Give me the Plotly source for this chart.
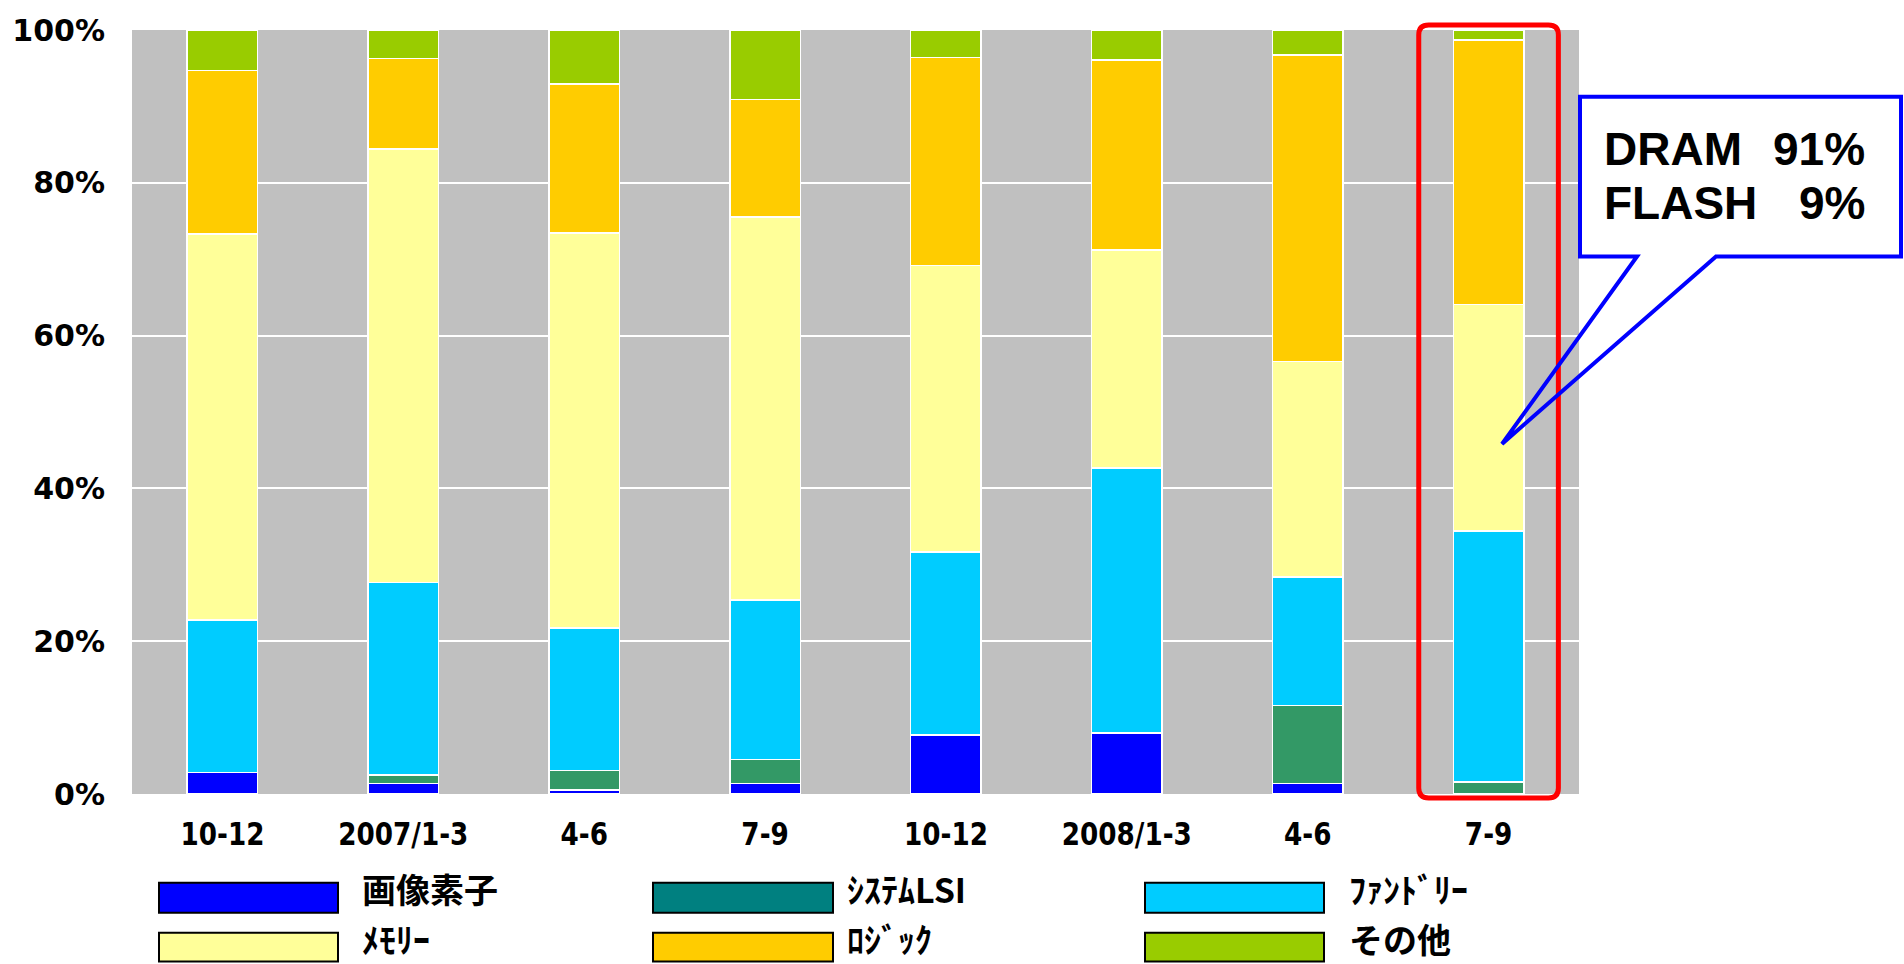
import plotly.graph_objects as go

# Quarterly share of semiconductor production by product type (%)
categories = ["10-12", "2007/1-3", "4-6", "7-9", "10-12", "2008/1-3", "4-6", "7-9"]
series_names = ["画像素子", "ｼｽﾃﾑLSI", "ﾌｧﾝﾄﾞﾘｰ", "ﾒﾓﾘｰ", "ﾛｼﾞｯｸ", "その他"]

image_sensor = [2.8, 1.4, 0.5, 1.4, 7.7, 8.0, 1.4, 0.0]
system_lsi = [0.0, 1.1, 2.6, 3.1, 0.0, 0.0, 10.2, 1.6]
foundry = [20.0, 25.2, 18.6, 20.9, 24.0, 34.7, 16.8, 32.8]
memory = [50.5, 56.7, 51.7, 50.1, 37.5, 28.5, 28.2, 29.7]
logic = [21.4, 11.9, 19.5, 15.4, 27.2, 24.9, 40.1, 34.6]
other = [5.3, 3.7, 7.1, 9.1, 3.6, 3.9, 3.3, 1.3]

y_ticks = [0, 20, 40, 60, 80, 100]
y_tick_labels = ["0%", "20%", "40%", "60%", "80%", "100%"]

memory_breakdown = [("DRAM", "91%"), ("FLASH", "9%")]

bar_colors = ["#0000FF", "#339966", "#00CCFF", "#FFFF99", "#FFCC00", "#99CC00"]
legend_colors = ["#0000FF", "#008080", "#00CCFF", "#FFFF99", "#FFCC00", "#99CC00"]
series_values = [image_sensor, system_lsi, foundry, memory, logic, other]

W, H = 1904, 964
L, R, T, B = 132, 325, 28, 170
PW, PH = W - L - R, H - T - B


def px(x):
    return (x - L) / PW


def py(y):
    return (H - B - y) / PH


xs = list(range(len(categories)))
fig = go.Figure()
for name, vals, col in zip(series_names, series_values, bar_colors):
    fig.add_trace(go.Bar(
        x=xs, y=vals, name=name, width=0.39,
        marker=dict(color=col, line=dict(color="white", width=1.5)),
        showlegend=False,
    ))

shapes = []
annotations = []

# legend: three columns, two rows, large swatches
col_x = [(159, 338), (653, 833), (1145, 1324)]
text_x = [361, 846, 1348]
row_y = [(883, 913), (933, 962)]
row_text_y = [889, 939]
for i, (name, col) in enumerate(zip(series_names, legend_colors)):
    r, c = divmod(i, 3)
    x0, x1 = col_x[c]
    y0, y1 = row_y[r]
    shapes.append(dict(type="rect", xref="paper", yref="paper",
                       x0=px(x0), x1=px(x1), y0=py(y1), y1=py(y0),
                       fillcolor=col, line=dict(color="black", width=2), layer="above"))
    annotations.append(dict(xref="paper", yref="paper", x=px(text_x[c]), y=py(row_text_y[r]),
                            text=name, showarrow=False, xanchor="left", yanchor="middle",
                            borderpad=0,
                            font=dict(family="Noto Sans CJK JP", size=34, color="black", weight="bold")))

# red rounded highlight around the latest quarter
hx0, hx1 = 7 - 0.386, 7 + 0.386
rx0, rx1 = L + (hx0 + 0.5) * PW / 8, L + (hx1 + 0.5) * PW / 8
ry0, ry1 = 23, 798
rad = 10
red_path = (f"M {px(rx0 + rad)},{py(ry0)} L {px(rx1 - rad)},{py(ry0)} "
            f"Q {px(rx1)},{py(ry0)} {px(rx1)},{py(ry0 + rad)} "
            f"L {px(rx1)},{py(ry1 - rad)} Q {px(rx1)},{py(ry1)} {px(rx1 - rad)},{py(ry1)} "
            f"L {px(rx0 + rad)},{py(ry1)} Q {px(rx0)},{py(ry1)} {px(rx0)},{py(ry1 - rad)} "
            f"L {px(rx0)},{py(ry0 + rad)} Q {px(rx0)},{py(ry0)} {px(rx0 + rad)},{py(ry0)} Z")
shapes.append(dict(type="path", xref="paper", yref="paper", path=red_path,
                   line=dict(color="#FF0000", width=5), fillcolor="rgba(0,0,0,0)", layer="above"))

# callout box for the memory breakdown
bx0, bx1, by0, by1 = 1580, 1901, 95, 255
shapes.append(dict(type="rect", xref="paper", yref="paper",
                   x0=px(bx0), x1=px(bx1), y0=py(by1), y1=py(by0),
                   fillcolor="white", line=dict(width=0), layer="above"))
wl, wr, tip = 1637, 1716, (1502, 443)
callout = (f"M {px(wl)},{py(by1)} L {px(bx0)},{py(by1)} L {px(bx0)},{py(by0)} "
           f"L {px(bx1)},{py(by0)} L {px(bx1)},{py(by1)} L {px(wr)},{py(by1)} "
           f"L {px(tip[0])},{py(tip[1])} Z")
shapes.append(dict(type="path", xref="paper", yref="paper", path=callout,
                   line=dict(color="#0000FF", width=4), fillcolor="rgba(0,0,0,0)", layer="above"))

for (label, pct), yc in zip(memory_breakdown, [147, 201]):
    f = dict(family="Liberation Sans, Arial, sans-serif", size=46, color="black", weight="bold")
    annotations.append(dict(xref="paper", yref="paper", x=px(1602), y=py(yc), text=label,
                            showarrow=False, xanchor="left", yanchor="middle", font=f))
    annotations.append(dict(xref="paper", yref="paper", x=px(1867), y=py(yc), text=pct,
                            showarrow=False, xanchor="right", yanchor="middle", font=f))

fig.update_layout(
    barmode="stack",
    width=W, height=H,
    margin=dict(l=L, r=R, t=T, b=B, pad=0),
    paper_bgcolor="white",
    plot_bgcolor="#C0C0C0",
    shapes=shapes,
    annotations=annotations,
    xaxis=dict(range=[-0.5, 7.5], tickvals=xs, ticktext=categories, showgrid=False,
               zeroline=False, showline=False, ticks="", ticklabelstandoff=18,
               tickfont=dict(family="DejaVu Sans", size=32, color="black", weight="bold")),
    yaxis=dict(range=[0, 100], tickvals=y_ticks, ticktext=y_tick_labels, showgrid=True,
               gridcolor="white", gridwidth=2, zeroline=False, showline=False, ticks="",
               ticklabelstandoff=26,
               tickfont=dict(family="DejaVu Sans", size=30, color="black", weight="bold")),
)

# narrow the category labels horizontally (condensed look) after rendering
condense_js = """
var gd = document.getElementById('{plot_id}');
function condenseTicks() {
  gd.querySelectorAll('.xtick text').forEach(function (t) {
    if (!t.getAttribute('data-cond')) {
      var w = t.getComputedTextLength();
      t.setAttribute('textLength', (w * 0.82).toFixed(1));
      t.setAttribute('lengthAdjust', 'spacingAndGlyphs');
      t.setAttribute('data-cond', '1');
    }
  });
}
condenseTicks();
gd.on('plotly_afterplot', condenseTicks);
"""

fig.write_html("out.html", post_script=condense_js)
